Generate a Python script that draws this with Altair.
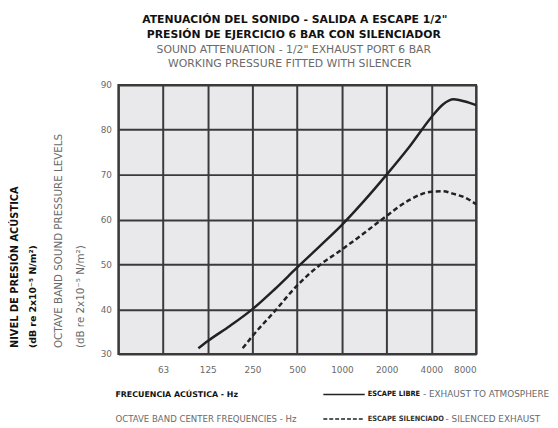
import altair as alt
import pandas as pd

# ---- data ----
solid_freq = [108, 125, 177, 250, 354, 500, 707, 1000, 1414, 2000, 2828, 4000, 4760, 5660, 6730, 8000]
solid_db = [31.3, 32.9, 36.3, 40.0, 44.5, 49.3, 54.0, 58.8, 64.2, 70.0, 76.1, 82.8, 85.6, 86.8, 86.3, 85.5]

dashed_freq = [215, 250, 354, 500, 707, 1000, 1414, 2000, 2828, 4000, 4760, 5660, 6730, 8000]
dashed_db = [31.3, 34.0, 39.6, 45.3, 49.8, 53.3, 57.0, 60.8, 64.3, 66.2, 66.3, 65.7, 64.9, 63.4]

x_ticks = [31.25, 62.5, 125, 250, 500, 1000, 2000, 4000, 8000]
y_ticks = [30, 40, 50, 60, 70, 80, 90]

title_bold = ["ATENUACIÓN DEL SONIDO - SALIDA A ESCAPE 1/2\"",
              "PRESIÓN DE EJERCICIO 6 BAR CON SILENCIADOR"]
title_gray = ["SOUND ATTENUATION - 1/2\" EXHAUST PORT 6 BAR",
              "WORKING PRESSURE FITTED WITH SILENCER"]
ytitle_bold = ["NIVEL DE PRESIÓN ACÚSTICA", "(dB re 2x10⁻⁵ N/m²)"]
ytitle_gray = ["OCTAVE BAND SOUND PRESSURE LEVELS", "(dB re 2x10⁻⁵ N/m²)"]
xtitle_bold = "FRECUENCIA ACÚSTICA - Hz"
xtitle_gray = "OCTAVE BAND CENTER FREQUENCIES - Hz"
legend_bold = ["ESCAPE LIBRE", "ESCAPE SILENCIADO"]
legend_gray = ["- EXHAUST TO ATMOSPHERE", "- SILENCED EXHAUST"]

WIDE = "DejaVu Sans, sans-serif"
NARROW = "DejaVu Sans Condensed, sans-serif"
DARK = "#222222"
BLACK = "#111111"
GRAY = "#6a6a6a"
GRID = "#3a3a3a"

df = pd.concat([
    pd.DataFrame({"freq": solid_freq, "db": solid_db, "series": "libre"}),
    pd.DataFrame({"freq": dashed_freq, "db": dashed_db, "series": "silenciado"}),
])

W, H = 363, 273

xscale = alt.Scale(type="log", base=2, domain=[31.25, 8000], nice=False)
yscale = alt.Scale(domain=[30, 90], nice=False)

xaxis = alt.Axis(values=x_ticks, grid=True, gridColor=GRID, gridWidth=2, gridOpacity=1,
                 domain=False, ticks=False, title=None, labelFont=WIDE, labelFontSize=9,
                 labelColor=GRAY, labelPadding=12,
                 labelExpr="datum.value < 40 ? '' : (datum.value < 70 ? '63' : format(datum.value, 'd'))")
yaxis = alt.Axis(values=y_ticks, grid=True, gridColor=GRID, gridWidth=2, gridOpacity=1,
                 domain=False, ticks=False, title=None, labelFont=WIDE, labelFontSize=9,
                 labelColor=GRAY, labelPadding=7)

base = alt.Chart(df)

solid = base.transform_filter(alt.datum.series == "libre").mark_line(
    color=DARK, strokeWidth=2.5, interpolate="monotone"
).encode(x=alt.X("freq:Q", scale=xscale, axis=xaxis), y=alt.Y("db:Q", scale=yscale, axis=yaxis))

dashed = base.transform_filter(alt.datum.series == "silenciado").mark_line(
    color=DARK, strokeWidth=2.5, strokeDash=[5, 3], interpolate="monotone"
).encode(x=alt.X("freq:Q", scale=xscale, axis=xaxis), y=alt.Y("db:Q", scale=yscale, axis=yaxis))

one = alt.Data(values=[{"a": 1}])


def txt(text, x, y, size, color, weight="normal", align="left", angle=0, font=WIDE):
    kw = dict(text=text, font=font, fontSize=size, color=color, fontWeight=weight,
              align=align, baseline="middle")
    if angle:
        kw["angle"] = angle
    return alt.Chart(one).mark_text(**kw).encode(x=alt.value(x), y=alt.value(y))


layers = [solid, dashed]
# titles
layers.append(txt(title_bold[0], 179, -66, 11, BLACK, "bold", "center"))
layers.append(txt(title_bold[1], 178, -51, 11, BLACK, "bold", "center"))
layers.append(txt(title_gray[0], 178, -35, 11, GRAY, "normal", "center"))
layers.append(txt(title_gray[1], 174, -21, 11, GRAY, "normal", "center"))
# y titles
layers.append(txt(ytitle_bold[0], -105, 267, 10, BLACK, "bold", "left", 270))
layers.append(txt(ytitle_bold[1], -87, 267, 9.5, BLACK, "bold", "left", 270))
layers.append(txt(ytitle_gray[0], -60, 267, 10.5, GRAY, "normal", "left", 270))
layers.append(txt(ytitle_gray[1], -38, 267, 10.5, GRAY, "normal", "left", 270))
# x titles
layers.append(txt(xtitle_bold, -3, 315, 8, BLACK, "bold"))
layers.append(txt(xtitle_gray, -3, 339, 8.7, GRAY))
# legend
layers.append(alt.Chart(one).mark_rule(color=DARK, strokeWidth=1.5).encode(
    x=alt.value(208), x2=alt.value(250), y=alt.value(314)))
layers.append(alt.Chart(one).mark_rule(color=DARK, strokeWidth=1.5, strokeDash=[4, 2]).encode(
    x=alt.value(208), x2=alt.value(250), y=alt.value(339)))
layers.append(txt(legend_bold[0], 253, 314, 7.5, BLACK, "bold", font=NARROW))
layers.append(txt(legend_gray[0], 309, 314, 9, GRAY))
layers.append(txt(legend_bold[1], 253, 339, 7.5, "#333333", "bold", font=NARROW))
layers.append(txt(legend_gray[1], 332, 339, 9, GRAY))

chart = alt.layer(*layers).properties(
    width=W, height=H,
    autosize=alt.AutoSizeParams(type="none"),
    padding={"left": 112, "top": 75, "right": 75, "bottom": 72},
    background="white",
).configure_view(
    fill="#e9e9eb", stroke=GRID, strokeWidth=2
)

chart.save("out.html", embed_options={"renderer": "svg", "actions": False})
